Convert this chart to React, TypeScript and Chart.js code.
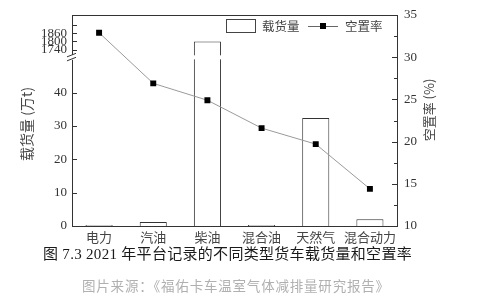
import React, { useEffect, useRef } from 'react';
import { Chart, registerables } from 'chart.js';

Chart.register(...registerables);

// ---- data ----
const categories = ['电力', '汽油', '柴油', '混合油', '天然气', '混合动力'];
const cargoVolume = [0.3, 1.2, 1800, 0.3, 32.4, 2.0]; // 万t
const vacancyRate = [32.9, 26.9, 24.9, 21.6, 19.7, 14.4]; // %
const leftTicksLow = [0, 10, 20, 30, 40];
const leftTicksHigh = [1740, 1800, 1860];
const leftTicksHighUnlabeled = [1920];
const rightTicks = [10, 15, 20, 25, 30, 35];
const rightMinorTicks = [12.5, 17.5, 22.5, 27.5, 32.5];

// ---- broken axis mapping ----
const LOW_MAX = 50;
const UPPER_BASE = 1700;
const UPPER_OFFSET = 51.2;
const UPPER_SCALE = 24;
const Y_MAX_DISPLAY = 63.3;
const toDisplay = (v: number) => (v <= LOW_MAX ? v : UPPER_OFFSET + (v - UPPER_BASE) / UPPER_SCALE);
const fromDisplay = (d: number) => (d <= LOW_MAX ? d : UPPER_BASE + (d - UPPER_OFFSET) * UPPER_SCALE);

const NUM_FONT = "'Liberation Serif', 'Noto Sans CJK SC', serif";
const CJK_FONT = "'Noto Sans CJK SC', sans-serif";
const AXIS = '#333';

const framePlugin = {
  id: 'frameAndExtras',
  afterDraw(chart: any) {
    const ctx = chart.ctx as CanvasRenderingContext2D;
    const { left, right, top } = chart.chartArea;
    const y = chart.scales.y;
    const y2 = chart.scales.y2;
    const line = (x1: number, y1: number, x2: number, y2_: number) => {
      ctx.beginPath();
      ctx.moveTo(x1, y1);
      ctx.lineTo(x2, y2_);
      ctx.stroke();
    };
    ctx.save();
    ctx.strokeStyle = AXIS;
    ctx.lineWidth = 1;
    // top frame
    line(left, Math.round(top) + 0.5, right, Math.round(top) + 0.5);
    // left inward ticks
    [...leftTicksLow, ...leftTicksHigh, ...leftTicksHighUnlabeled].forEach((v) => {
      const py = Math.round(y.getPixelForValue(toDisplay(v))) + 0.5;
      line(left, py, left + 5, py);
    });
    // right inward ticks
    rightTicks.forEach((v) => {
      const py = Math.round(y2.getPixelForValue(v)) + 0.5;
      line(right - 5, py, right, py);
    });
    rightMinorTicks.forEach((v) => {
      const py = Math.round(y2.getPixelForValue(v)) + 0.5;
      line(right - 3, py, right, py);
    });
    // axis break
    const by = y.getPixelForValue((LOW_MAX + UPPER_OFFSET) / 2);
    ctx.fillStyle = '#fff';
    ctx.fillRect(left - 6, by - 2.5, 12, 5);
    const meta = chart.getDatasetMeta(1);
    meta.data.forEach((el: any, i: number) => {
      if (cargoVolume[i] > LOW_MAX) {
        ctx.fillRect(el.x - el.width / 2 - 2, by - 2, el.width + 4, 4);
      }
    });
    line(left - 5, by - 0.5, left + 4, by - 4);
    line(left - 5, by + 3.5, left + 4, by);

    // legend
    ctx.strokeStyle = '#444';
    ctx.strokeRect(226.5, 19.5, 29, 13);
    ctx.fillStyle = '#444';
    ctx.font = `12.5px ${CJK_FONT}`;
    ctx.textBaseline = 'middle';
    ctx.textAlign = 'left';
    ctx.fillText('载货量', 262, 26);
    ctx.strokeStyle = '#666';
    line(308, 26.5, 338, 26.5);
    ctx.fillStyle = '#000';
    ctx.fillRect(320, 23, 6, 6);
    ctx.fillStyle = '#444';
    ctx.fillText('空置率', 345, 26);

    // axis titles
    ctx.font = `14px ${CJK_FONT}`;
    ctx.textAlign = 'center';
    ctx.fillStyle = '#444';
    ctx.save();
    ctx.translate(27, 124);
    ctx.rotate(-Math.PI / 2);
    ctx.fillText('载货量 (万t)', 0, 0);
    ctx.restore();
    ctx.font = `13px ${CJK_FONT}`;
    ctx.save();
    ctx.translate(429, 110);
    ctx.rotate(-Math.PI / 2);
    ctx.fillText('空置率 (%)', 0, 0);
    ctx.restore();
    ctx.restore();
  },
};

export default function App() {
  const ref = useRef<HTMLCanvasElement>(null);
  useEffect(() => {
    const chart = new Chart(ref.current as HTMLCanvasElement, {
      type: 'bar',
      data: {
        labels: categories,
        datasets: [
          {
            type: 'line',
            label: '空置率',
            data: vacancyRate,
            yAxisID: 'y2',
            borderColor: '#9a9a9a',
            borderWidth: 1,
            pointStyle: 'rect',
            pointRadius: 4.2,
            pointBackgroundColor: '#000',
            pointBorderColor: '#000',
            pointBorderWidth: 0,
            order: 0,
          } as any,
          {
            type: 'bar',
            label: '载货量',
            data: cargoVolume.map(toDisplay),
            yAxisID: 'y',
            backgroundColor: '#fff',
            borderColor: '#333',
            borderWidth: 1,
            barPercentage: 0.5,
            categoryPercentage: 1,
            order: 1,
          } as any,
        ],
      },
      options: {
        responsive: false,
        animation: false,
        layout: { padding: { top: 15, left: 0, right: 0, bottom: 0 } },
        plugins: {
          legend: { display: false },
          tooltip: { enabled: false },
          title: { display: false },
        },
        scales: {
          x: {
            type: 'category',
            offset: true,
            grid: { display: false, drawTicks: false },
            border: { display: true, color: AXIS, width: 1 },
            ticks: {
              color: '#444',
              font: { family: CJK_FONT, size: 13 },
              padding: 3,
              maxRotation: 0,
              autoSkip: false,
            },
            afterFit: (s: any) => {
              s.height = 74;
            },
          },
          y: {
            type: 'linear',
            position: 'left',
            min: 0,
            max: Y_MAX_DISPLAY,
            grid: { display: false, drawTicks: false },
            border: { display: true, color: AXIS, width: 1 },
            ticks: {
              autoSkip: false,
              padding: 5,
              color: '#333',
              font: { family: NUM_FONT, size: 13 },
              callback: (value: any) => {
                const d = Number(value);
                if (d <= LOW_MAX) return String(Math.round(d));
                const r = Math.round(fromDisplay(d));
                return leftTicksHigh.includes(r) ? String(r) : '';
              },
            },
            afterBuildTicks: (s: any) => {
              s.ticks = [...leftTicksLow, ...leftTicksHigh, ...leftTicksHighUnlabeled].map((v) => ({
                value: toDisplay(v),
              }));
            },
            afterFit: (s: any) => {
              s.width = 72;
            },
          },
          y2: {
            type: 'linear',
            position: 'right',
            min: 10,
            max: 35,
            grid: { display: false, drawTicks: false },
            border: { display: true, color: AXIS, width: 1 },
            ticks: {
              stepSize: 5,
              padding: 7,
              color: '#333',
              font: { family: NUM_FONT, size: 13 },
            },
            afterBuildTicks: (s: any) => {
              s.ticks = rightTicks.map((v) => ({ value: v }));
            },
            afterFit: (s: any) => {
              s.width = 103;
            },
          },
        },
      } as any,
      plugins: [framePlugin],
    });
    return () => chart.destroy();
  }, []);

  return (
    <div style={{ position: 'absolute', left: 0, top: 0, width: 500, height: 300, background: '#fff' }}>
      <canvas ref={ref} width={500} height={300} style={{ display: 'block', width: 500, height: 300 }} />
      <div
        style={{
          position: 'absolute',
          left: 43,
          top: 244,
          lineHeight: '20px',
          fontSize: 15,
          fontFamily: NUM_FONT,
          color: '#1a1a1a',
          letterSpacing: '0.3px',
          whiteSpace: 'nowrap',
        }}
      >
        图 7.3 2021 年平台记录的不同类型货车载货量和空置率
      </div>
      <div
        style={{
          position: 'absolute',
          left: 82,
          top: 276,
          lineHeight: '18px',
          fontSize: 13.5,
          fontFamily: CJK_FONT,
          color: '#b0b0b0',
          letterSpacing: '0.8px',
          whiteSpace: 'nowrap',
        }}
      >
        图片来源：《福佑卡车温室气体减排量研究报告》
      </div>
    </div>
  );
}
